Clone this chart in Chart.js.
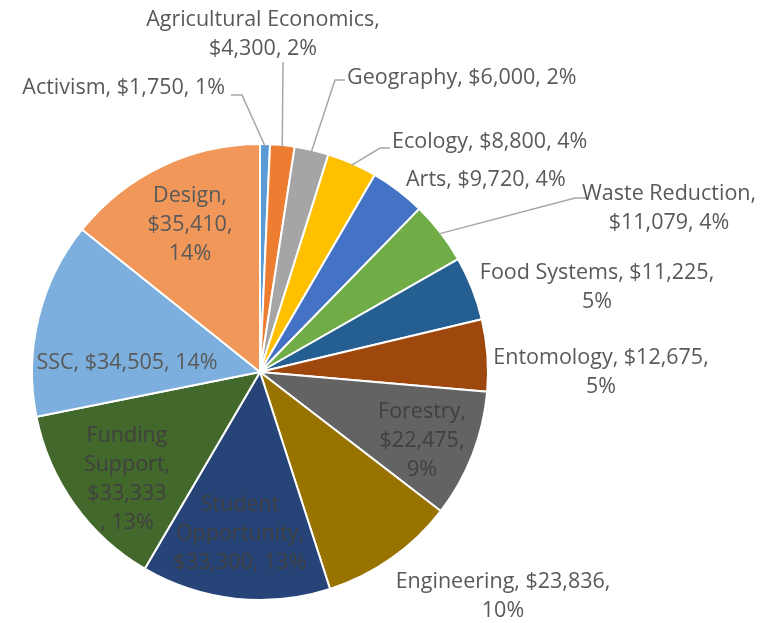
<!DOCTYPE html>
<html lang="en">
<head>
<meta charset="UTF-8">
<title>Funding by category</title>
<script src="https://cdn.jsdelivr.net/npm/chart.js"></script>
<style>
  html, body { margin: 0; padding: 0; background: #fff; }
  #wrap { width: 779px; height: 623px; position: relative; }
</style>
</head>
<body>
<div id="wrap"><canvas id="pie"></canvas></div>
<script>
// data
const categories = ["Activism", "Agricultural Economics", "Geography", "Ecology", "Arts",
  "Waste Reduction", "Food Systems", "Entomology", "Forestry", "Engineering",
  "Student Opportunity", "Funding Support", "SSC", "Design"];
const amounts = [1750, 4300, 6000, 8800, 9720, 11079, 11225, 12675, 22475, 23836,
  33300, 33333, 34505, 35410];
const percentLabels = ["1%", "2%", "2%", "4%", "4%", "4%", "5%", "5%", "9%", "10%",
  "13%", "13%", "14%", "14%"];
const sliceColors = ["#5B9BD5", "#ED7D31", "#A5A5A5", "#FFC000", "#4472C4", "#70AD47",
  "#255E91", "#9E480E", "#636363", "#997300", "#264478", "#43682B", "#7CAFDD", "#F1975A"];

function money(v) { return "$" + v.toLocaleString("en-US"); }

// how each label is broken into lines (uses the data above)
function labelLines(i) {
  const n = categories[i], m = money(amounts[i]), p = percentLabels[i];
  switch (n) {
    case "Agricultural Economics": return [n + ",", m + ", " + p];
    case "Waste Reduction": return [n + ",", m + ", " + p];
    case "Food Systems":
    case "Entomology":
    case "Engineering": return [n + ", " + m + ",", p];
    case "Forestry":
    case "Design": return [n + ",", m + ",", p];
    case "Student Opportunity": return ["Student", "Opportunity,", m + ", " + p];
    case "Funding Support": return ["Funding", "Support,", m, ", " + p];
    default: return [n + ", " + m + ", " + p];
  }
}

// label placement (text anchor, first line middle) and leader elbows
const labelLayout = [
  { x: 225, y: 88, align: "right", elbow: [231, 95], joint: [242, 95] },
  { x: 263, y: 20, align: "center", elbow: [283, 62], joint: [283, 62] },
  { x: 347, y: 78, align: "left", elbow: [345, 80], joint: [335, 80] },
  { x: 392, y: 142, align: "left", elbow: [390, 148], joint: [380, 148] },
  { x: 406, y: 180, align: "left" },
  { x: 669, y: 194, align: "center", elbow: [587, 198], joint: [575, 198] },
  { x: 597, y: 273, align: "center" },
  { x: 601, y: 358, align: "center" },
  { x: 422, y: 412, align: "center" },
  { x: 503, y: 582, align: "center" },
  { x: 240, y: 505, align: "center" },
  { x: 127, y: 436, align: "center" },
  { x: 127, y: 363, align: "center" },
  { x: 190, y: 196, align: "center" }
];
const lineGap = 29;

const labelPlugin = {
  id: "sliceLabels",
  afterDatasetsDraw(chart) {
    const ctx = chart.ctx;
    const arcs = chart.getDatasetMeta(0).data;
    ctx.save();
    // leader lines
    ctx.strokeStyle = "#A6A6A6";
    ctx.lineWidth = 1.5;
    arcs.forEach((arc, i) => {
      const L = labelLayout[i];
      if (!L.elbow) return;
      const mid = (arc.startAngle + arc.endAngle) / 2;
      const r = arc.outerRadius - 2;
      const sx = arc.x + Math.cos(mid) * r;
      const sy = arc.y + Math.sin(mid) * r;
      ctx.beginPath();
      ctx.moveTo(L.elbow[0], L.elbow[1]);
      ctx.lineTo(L.joint[0], L.joint[1]);
      ctx.lineTo(sx, sy);
      ctx.stroke();
    });
    // texts
    ctx.font = "21.5px 'Open Sans'";
    ctx.textBaseline = "middle";
    arcs.forEach((arc, i) => {
      const L = labelLayout[i];
      const inside = [8, 10, 11].includes(i);
      ctx.fillStyle = inside ? "#404040" : "#595959";
      ctx.textAlign = L.align;
      labelLines(i).forEach((t, k) => ctx.fillText(t, L.x, L.y + k * lineGap));
    });
    ctx.restore();
  }
};

new Chart(document.getElementById("pie"), {
  type: "pie",
  data: {
    labels: categories,
    datasets: [{
      data: amounts,
      backgroundColor: sliceColors,
      borderColor: "#ffffff",
      borderWidth: 2
    }]
  },
  options: {
    responsive: true,
    maintainAspectRatio: false,
    animation: false,
    events: [],
    layout: { padding: { left: 31, right: 290, top: 143, bottom: 22 } },
    plugins: { legend: { display: false }, tooltip: { enabled: false } }
  },
  plugins: [labelPlugin]
});
</script>
</body>
</html>
